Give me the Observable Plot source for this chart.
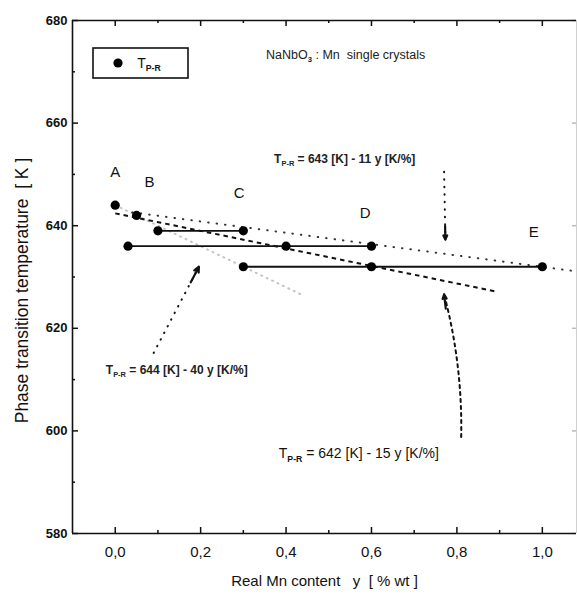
<!DOCTYPE html>
<html><head><meta charset="utf-8">
<script src="https://cdn.jsdelivr.net/npm/d3@7"></script>
<script src="https://cdn.jsdelivr.net/npm/@observablehq/plot@0.6"></script>
<style>
body{margin:0;background:#fff}
svg{font-family:"Liberation Sans",Arial,sans-serif}
</style>
</head><body><div id="chart"></div>
<script>
// ---- data ----
const mnContent   = [0.0, 0.05, 0.1, 0.3, 0.03, 0.4, 0.6, 0.3, 0.6, 1.0];
const transitionT = [644, 642, 639, 639, 636, 636, 636, 632, 632, 632];

// horizontal bars joining samples of the same crystal
const segStart = [0.1, 0.03, 0.3];
const segEnd   = [0.3, 0.6, 1.0];
const segT     = [639, 636, 632];

// sample letters
const sampleLabels = ["A", "B", "C", "D", "E"];
const sampleLabelX = [0.0, 0.08, 0.29, 0.585, 0.98];
const sampleLabelT = [650.5, 648.5, 646.3, 642.5, 638.7];

// fitted lines (as drawn)
const fitNames = ["643-11y", "642-15y", "644-40y"];
const fitX1 = [0.04, 0.0, 0.0];
const fitX2 = [1.08, 0.89, 0.44];
const fitT1 = [642.6, 642.4, 644];
const fitT2 = [631.1, 627.2, 626.4];

// equation labels and their arrows
const eqText = ["T_{P-R} = 643 [K] - 11 y [K/%]", "T_{P-R} = 644 [K] - 40 y [K/%]", "T_{P-R} = 642 [K] - 15 y [K/%]"];
const eqX = [0.372, -0.022, 0.383];
const eqT = [653.0, 611.8, 595.5];
const arrowX1 = [0.77, 0.09, 0.81];
const arrowT1 = [650.5, 615.2, 598.8];
const arrowX2 = [0.773, 0.196, 0.77];
const arrowT2 = [637.3, 632.0, 626.6];

const titleText = "NaNbO_{3} : Mn  single crystals";
const xTicks = [0, 0.2, 0.4, 0.6, 0.8, 1.0];
const xMinor = [0.1, 0.3, 0.5, 0.7, 0.9];
const yTicks = [580, 600, 620, 640, 660, 680];
const yMinor = [590, 610, 630, 650, 670];
const xLabel = "Real Mn content   y  [ % wt ]";
const yLabel = "Phase transition temperature  [ K ]";
const legendLabel = "T_{P-R}";

// ---- tables ----
const points = mnContent.map((x, i) => ({x, t: transitionT[i]}));
const segs = segStart.map((s, i) => ({x1: s, x2: segEnd[i], t: segT[i]}));
const letters = sampleLabels.map((s, i) => ({s, x: sampleLabelX[i], t: sampleLabelT[i]}));
const fits = fitNames.map((n, i) => ({n, x1: fitX1[i], x2: fitX2[i], t1: fitT1[i], t2: fitT2[i]}));
const eqs = eqText.map((s, i) => ({s, x: eqX[i], t: eqT[i]}));
const arrows = arrowX1.map((x1, i) => ({i, x1, t1: arrowT1[i], x2: arrowX2[i], t2: arrowT2[i]}));
// short solid piece at the tip of each arrow, carrying the arrow head
const tipFrac = [0.8, 0.82, 0.9];
const heads = arrows.map((a, i) => ({
  x1: a.x1 + tipFrac[i] * (a.x2 - a.x1), t1: a.t1 + tipFrac[i] * (a.t2 - a.t1), x2: a.x2, t2: a.t2
}));

const W = 577, H = 598, mT = 20, mB = 65, mL = 72, mR = 1;
const fH = H - mT - mB, fW = W - mL - mR;

const fitMark = (i, opts) => Plot.link([fits[i]], {x1: "x1", x2: "x2", y1: "t1", y2: "t2", ...opts});

const chart = Plot.plot({
  width: W, height: H,
  marginTop: mT, marginBottom: mB, marginLeft: mL, marginRight: mR,
  style: {fontFamily: '"Liberation Sans", Arial, sans-serif', background: "#fff", color: "#111"},
  x: {domain: [-0.1, 1.08]},
  y: {domain: [580, 680]},
  marks: [
    // frame
    Plot.ruleX([1.08], {stroke: "#d0d0d0", strokeWidth: 1}),
    // inward ticks
    Plot.tickX(xTicks, {x: d => d, insetTop: fH - 6, stroke: "#111", strokeWidth: 1.5}),
    Plot.tickX(xMinor, {x: d => d, insetTop: fH - 3, stroke: "#111", strokeWidth: 1.5}),
    Plot.tickX(xTicks, {x: d => d, insetBottom: fH - 6, stroke: "#111", strokeWidth: 1.5}),
    Plot.tickX(xMinor, {x: d => d, insetBottom: fH - 3, stroke: "#111", strokeWidth: 1.5}),
    Plot.tickY(yTicks, {y: d => d, insetRight: fW - 6, stroke: "#111", strokeWidth: 1.5}),
    Plot.tickY(yMinor, {y: d => d, insetRight: fW - 3, stroke: "#111", strokeWidth: 1.5}),
    Plot.tickY(yTicks, {y: d => d, insetLeft: fW - 4, stroke: "#bbb", strokeWidth: 1.5}),
    Plot.ruleX([-0.1], {stroke: "#111", strokeWidth: 1.6}),
    Plot.ruleY([580, 680], {stroke: "#111", strokeWidth: 1.6}),
    // axes labels
    Plot.axisX({ticks: xTicks, tickSize: 0, tickPadding: 13, fontSize: 15, label: null,
      tickFormat: d => d3.format(".1f")(d).replace(".", ",")}),
    Plot.axisY({ticks: yTicks, tickSize: 0, tickPadding: 5, fontSize: 13, fontWeight: "bold", label: null, tickFormat: d3.format("d")}),
    Plot.text([xLabel], {text: d => d, frameAnchor: "bottom", dy: 48, fontSize: 15, lineAnchor: "middle"}),
    // fits
    fitMark(2, {stroke: "#c4c4c4", strokeWidth: 2, strokeDasharray: "1,5", strokeLinecap: "round"}),
    fitMark(0, {stroke: "#333", strokeWidth: 2, strokeDasharray: "0.5,8", strokeLinecap: "round"}),
    fitMark(1, {stroke: "#111", strokeWidth: 2, strokeDasharray: "4.5,4"}),
    // arrows: dotted / dashed shafts + solid heads
    Plot.link([arrows[0]], {x1: "x1", y1: "t1", x2: "x2", y2: "t2", stroke: "#111", strokeWidth: 2, strokeDasharray: "0.5,7", strokeLinecap: "round"}),
    Plot.link([arrows[1]], {x1: "x1", y1: "t1", x2: "x2", y2: "t2", stroke: "#111", strokeWidth: 2, strokeDasharray: "0.5,7", strokeLinecap: "round"}),
    Plot.arrow([arrows[2]], {x1: "x1", y1: "t1", x2: "x2", y2: "t2", stroke: "#111", strokeWidth: 2, strokeDasharray: "3,4", bend: -8, headLength: 0}),
    Plot.arrow(heads, {x1: "x1", y1: "t1", x2: "x2", y2: "t2", stroke: "#111", strokeWidth: 2.2, headLength: 7, headAngle: 50}),
    // data
    Plot.link(segs, {x1: "x1", x2: "x2", y1: "t", y2: "t", stroke: "#111", strokeWidth: 1.8}),
    Plot.dot(points, {x: "x", y: "t", r: 4.6, fill: "#000"}),
    // letters and annotations
    Plot.text(letters, {x: "x", y: "t", text: "s", fontSize: 15, fill: "#111"}),
    Plot.text([eqs[0]], {x: "x", y: "t", text: "s", fontSize: 12, fontWeight: "bold", textAnchor: "start", fill: "#222"}),
    Plot.text([eqs[1]], {x: "x", y: "t", text: "s", fontSize: 12, fontWeight: "bold", textAnchor: "start", fill: "#222"}),
    Plot.text([eqs[2]], {x: "x", y: "t", text: "s", fontSize: 14, textAnchor: "start", fill: "#111"}),
    Plot.text([titleText], {x: [0.353], y: [673.2], text: d => d, fontSize: 12.5, textAnchor: "start", fill: "#222"})
  ]
});

const svg = d3.select(chart);
// y axis title
svg.append("text").attr("transform", `translate(28,${mT + fH / 2 + 14}) rotate(-90)`)
  .attr("text-anchor", "middle").attr("font-size", 17.5).attr("fill", "#111").text(yLabel);

// legend box inside the frame
const lg = svg.append("g").attr("class", "legend");
lg.append("rect").attr("x", 93).attr("y", 48).attr("width", 95).attr("height", 30)
  .attr("fill", "#fff").attr("stroke", "#111").attr("stroke-width", 1.6);
lg.append("circle").attr("cx", 118).attr("cy", 63).attr("r", 4.6).attr("fill", "#000");
lg.append("text").attr("x", 149).attr("y", 68).attr("font-size", 14).attr("fill", "#111").text(legendLabel);

// subscripts: "_{...}"
chart.querySelectorAll("text").forEach(t => {
  const s = t.textContent;
  if (!s.includes("_{")) return;
  while (t.firstChild) t.removeChild(t.firstChild);
  const re = /_\{([^}]*)\}/g;
  let last = 0, m;
  const ns = "http://www.w3.org/2000/svg";
  const add = (txt, sub) => {
    const sp = document.createElementNS(ns, "tspan");
    sp.textContent = txt;
    if (sub) { sp.setAttribute("font-size", "0.62em"); sp.setAttribute("dy", "0.38em"); sp.setAttribute("font-weight", "bold"); }
    return t.appendChild(sp);
  };
  let pendingUp = false;
  while ((m = re.exec(s))) {
    const pre = s.slice(last, m.index);
    if (pre) { const p = add(pre, false); if (pendingUp) { p.setAttribute("dy", "-0.24em"); pendingUp = false; } }
    add(m[1], true);
    pendingUp = true;
    last = re.lastIndex;
  }
  const rest = s.slice(last);
  if (rest) { const p = add(rest, false); if (pendingUp) p.setAttribute("dy", "-0.24em"); }
});

document.getElementById("chart").appendChild(chart);
</script>
</body></html>
